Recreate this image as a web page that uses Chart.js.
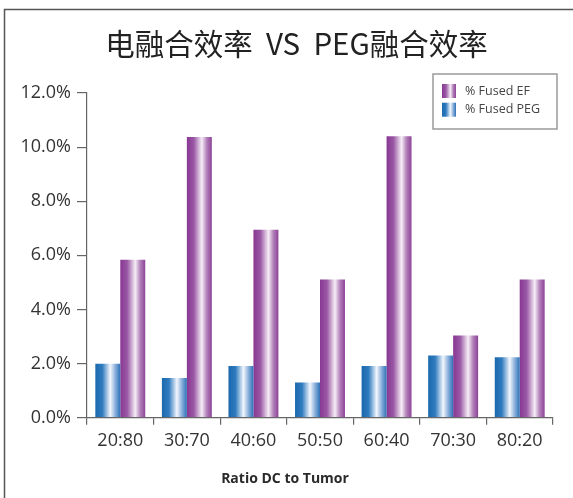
<!DOCTYPE html>
<html>
<head>
<meta charset="utf-8">
<script src="https://cdn.jsdelivr.net/npm/chart.js@4"></script>
<style>
  html, body { margin: 0; padding: 0; background: #fff; }
  #wrap { width: 573px; height: 498px; }
</style>
</head>
<body>
<div id="wrap"><canvas id="c" width="573" height="498"></canvas></div>
<script>
const categories = ['20:80', '30:70', '40:60', '50:50', '60:40', '70:30', '80:20'];
const fusedPEG = [1.99, 1.47, 1.91, 1.30, 1.91, 2.30, 2.23];
const fusedEF = [5.84, 10.37, 6.95, 5.11, 10.40, 3.04, 5.11];
const yTicks = [0, 2, 4, 6, 8, 10, 12];
const titleText = '电融合效率  VS  PEG融合效率';
const xTitle = 'Ratio DC to Tumor';

const CAT_PCT = 0.75;
const blueStops = [[0, '#1a68ad'], [0.28, '#2f7bbf'], [0.6, '#f2f6fc'], [0.8, '#8ab0db'], [1, '#2d71b7']];
const purpleStops = [[0, '#883893'], [0.28, '#9a58a5'], [0.6, '#f6eef6'], [0.8, '#b27fb9'], [1, '#8c4397']];

function barGradient(ctx, stops, dsIndex) {
  const chart = ctx.chart;
  const xs = chart.scales && chart.scales.x;
  if (!xs || ctx.type !== 'data' || !isFinite(xs.width) || xs.width <= 0) return stops[1][1];
  const catW = xs.width / categories.length;
  const groupW = catW * CAT_PCT;
  const barW = groupW / 2;
  const center = xs.getPixelForValue(ctx.dataIndex);
  const left = center - groupW / 2 + dsIndex * barW;
  const g = chart.ctx.createLinearGradient(left, 0, left + barW, 0);
  stops.forEach(([o, c]) => g.addColorStop(o, c));
  return g;
}

const framePlugin = {
  id: 'frame',
  afterLayout(chart) {
    if (chart.titleBlock) {
      chart.titleBlock.left = 20;
      chart.titleBlock.right = 573;
    }
  },
  beforeDraw(chart) {
    const c = chart.ctx;
    c.save();
    c.strokeStyle = '#555';
    c.lineWidth = 1.5;
    c.beginPath();
    c.moveTo(4.5, 498);
    c.lineTo(4.5, 9.5);
    c.lineTo(573, 9.5);
    c.stroke();
    c.restore();
  }
};

const legendPlugin = {
  id: 'boxLegend',
  afterDraw(chart) {
    const c = chart.ctx;
    const items = [
      { text: chart.data.datasets[1].label, stops: purpleStops },
      { text: chart.data.datasets[0].label, stops: blueStops }
    ];
    const bx = 433, by = 74, bw = 124, bh = 55;
    c.save();
    c.strokeStyle = '#9a9a9a';
    c.lineWidth = 1.5;
    c.strokeRect(bx, by, bw, bh);
    c.font = '12.5px "Open Sans", "Liberation Sans", sans-serif';
    c.textBaseline = 'middle';
    c.textAlign = 'left';
    items.forEach((it, i) => {
      const sx = 442, sy = 84 + i * 18.7, sw = 14, sh = 14;
      const g = c.createLinearGradient(sx, 0, sx + sw, 0);
      it.stops.forEach(([o, col]) => g.addColorStop(o, col));
      c.fillStyle = g;
      c.fillRect(sx, sy, sw, sh);
      c.fillStyle = '#444';
      c.fillText(it.text, 465, sy + sh / 2);
    });
    // x-axis title
    c.font = 'bold 14px "Open Sans", "Liberation Sans", sans-serif';
    c.fillStyle = '#2a2a2a';
    c.textAlign = 'center';
    c.fillText(xTitle, 285, 479);
    c.restore();
  }
};

new Chart(document.getElementById('c'), {
  type: 'bar',
  data: {
    labels: categories,
    datasets: [
      {
        label: '% Fused PEG',
        data: fusedPEG,
        backgroundColor: (ctx) => barGradient(ctx, blueStops, 0),
        borderWidth: 0,
        categoryPercentage: CAT_PCT,
        barPercentage: 1.0
      },
      {
        label: '% Fused EF',
        data: fusedEF,
        backgroundColor: (ctx) => barGradient(ctx, purpleStops, 1),
        borderWidth: 0,
        categoryPercentage: CAT_PCT,
        barPercentage: 1.0
      }
    ]
  },
  options: {
    responsive: false,
    animation: false,
    events: [],
    layout: { padding: { left: 0, right: 20, top: 0, bottom: 41.7 } },
    plugins: {
      legend: { display: false },
      tooltip: { enabled: false },
      title: {
        display: true,
        text: titleText,
        color: '#222',
        font: { family: '"Noto Sans CJK SC", "Noto Sans", sans-serif', size: 29.5, weight: 'normal', lineHeight: 1.2 },
        padding: { top: 26, bottom: 31.6 }
      }
    },
    scales: {
      x: {
        offset: true,
        grid: { display: true, drawOnChartArea: false, drawTicks: true, tickLength: 7, color: '#666', offset: true, lineWidth: 1.2 },
        border: { display: true, color: '#666', width: 1.2 },
        ticks: {
          color: '#333',
          padding: 5,
          font: { family: '"Open Sans", "Liberation Sans", sans-serif', size: 18 }
        },
        title: { display: false }
      },
      y: {
        min: 0,
        max: 12,
        afterBuildTicks: (axis) => { axis.ticks = yTicks.map(v => ({ value: v })); },
        afterFit: (axis) => { axis.width = 87; },
        grid: { display: true, drawOnChartArea: false, drawTicks: true, tickLength: 10, color: '#666', lineWidth: 1.2 },
        border: { display: true, color: '#666', width: 1.2 },
        ticks: {
          color: '#333',
          padding: 6,
          font: { family: '"Open Sans", "Liberation Sans", sans-serif', size: 18 },
          callback: (v) => Number(v).toFixed(1) + '%'
        }
      }
    }
  },
  plugins: [framePlugin, legendPlugin]
});
</script>
</body>
</html>
